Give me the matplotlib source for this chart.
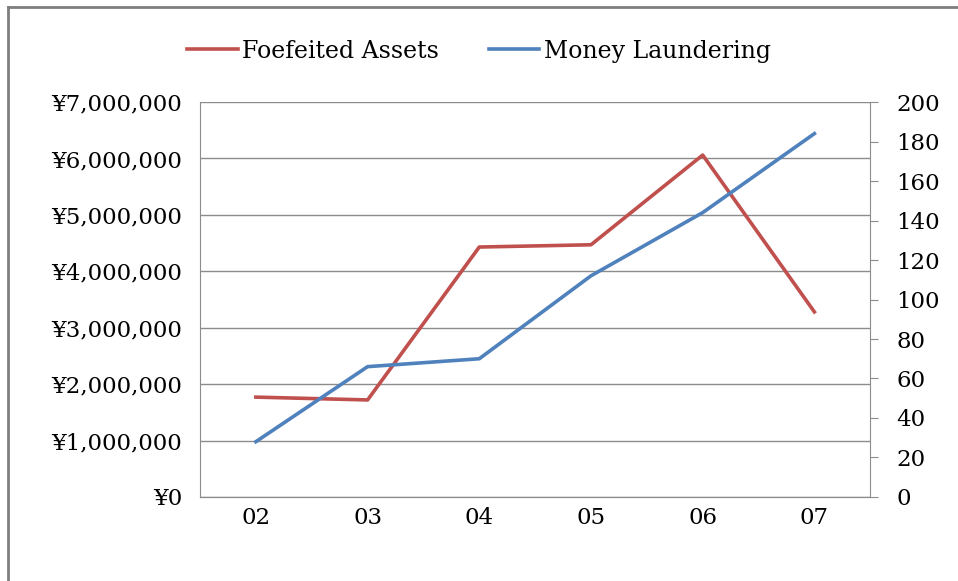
import matplotlib
matplotlib.use("Agg")
import matplotlib.pyplot as plt
from matplotlib.lines import Line2D
from matplotlib.ticker import FuncFormatter

# data
years = ["02", "03", "04", "05", "06", "07"]
forfeited = [1770000, 1720000, 4430000, 4470000, 6060000, 3280000]
laundering = [28, 66, 70, 112, 144, 184]

plt.rcParams['font.family'] = ['DejaVu Serif', 'Liberation Serif']

fig = plt.figure(figsize=(9.58, 5.81), dpi=100)
# outer frame: only left and top edges show
fig.lines.append(Line2D([0.008, 0.008], [0, 0.988], transform=fig.transFigure,
                        color='#7f7f7f', lw=2))
fig.lines.append(Line2D([0.008, 1.0], [0.988, 0.988], transform=fig.transFigure,
                        color='#7f7f7f', lw=2))

ax = fig.add_axes([0.2088, 0.1446, 0.6996, 0.6798])
ax2 = ax.twinx()

x = range(len(years))
l1, = ax.plot(x, forfeited, color='#C0504D', lw=2.6, label='Foefeited Assets')
l2, = ax2.plot(x, laundering, color='#4F81BD', lw=2.6, label='Money Laundering')

ax.set_xlim(-0.5, len(years) - 0.5)
ax.set_ylim(0, 7000000)
ax.set_yticks(range(0, 7000001, 1000000))
ax.yaxis.set_major_formatter(FuncFormatter(lambda v, p: '\u00a5{:,.0f}'.format(v)))
ax2.set_ylim(0, 200)
ax2.set_yticks(range(0, 201, 20))
ax.set_xticks(list(x))
ax.set_xticklabels(years)

ax.grid(axis='y', color='#8c8c8c', lw=1)
ax.set_axisbelow(True)
ax.spines['top'].set_visible(False)
ax2.spines['top'].set_visible(False)
for a in (ax, ax2):
    for s in a.spines.values():
        s.set_color('#8c8c8c')
ax2.spines['left'].set_visible(False)
ax.spines['right'].set_visible(False)

ax.tick_params(axis='y', length=0, labelsize=16.5, pad=13)
ax.tick_params(axis='x', length=0, labelsize=16.5, pad=7)
ax2.tick_params(axis='y', length=6, color='#8c8c8c', labelsize=16.5, pad=13)

fig.legend([l1, l2], ['Foefeited Assets', 'Money Laundering'], loc='center',
           bbox_to_anchor=(0.5, 0.912), ncol=2, frameon=False, fontsize=17,
           handlelength=2.15, handletextpad=0.17, columnspacing=2.1)

fig.savefig('out.png', dpi=100)
